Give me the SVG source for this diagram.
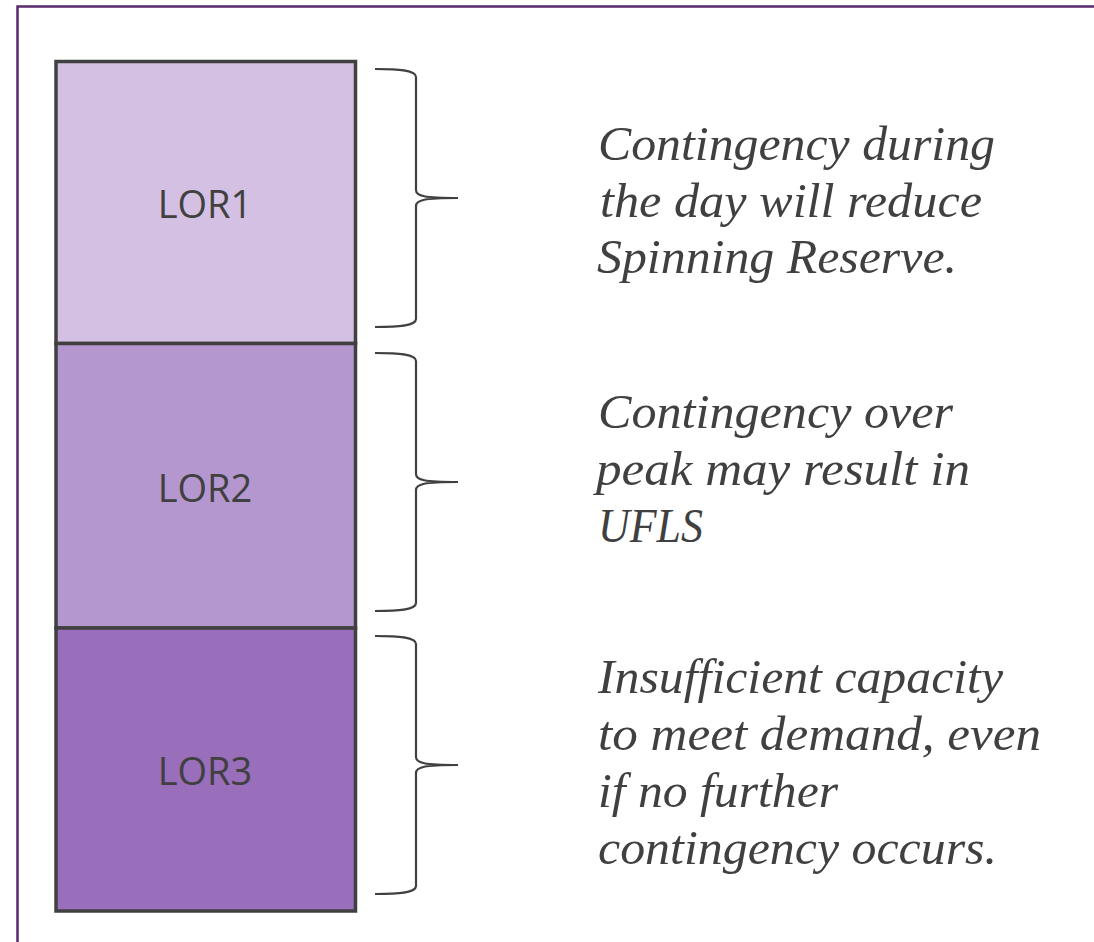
<svg xmlns="http://www.w3.org/2000/svg" width="1094" height="942" viewBox="0 0 1094 942">
  <style>
    .box { stroke: #404040; stroke-width: 3.5; }
    .lbl { font-family: "Open Sans", "Liberation Sans", sans-serif; font-size: 38px; fill: #404040; text-anchor: middle; }
    .desc { font-family: "Liberation Serif", "DejaVu Serif", serif; font-style: italic; font-size: 48px; fill: #404040; }
    .brace { fill: none; stroke: #404040; stroke-width: 2.2; }
  </style>
  <defs>
    <path id="brace" d="M375,69 C398,69 416,70 416,77 L416,190 C416,196 424,198 458,198 C424,198 416,200 416,206 L416,319 C416,326 398,327 375,327"/>
  </defs>
  <rect width="1094" height="942" fill="#ffffff"/>
  <path d="M17.5,943 L17.5,6.5 L1095,6.5" fill="none" stroke="#5B2A6E" stroke-width="2.5"/>

  <g id="lor1">
    <rect class="box" x="56" y="61.5" width="299.5" height="282" fill="#D4C0E2"/>
    <text class="lbl" x="205" y="218">LOR1</text>
  </g>
  <g id="lor2">
    <rect class="box" x="56" y="343.5" width="299.5" height="284.5" fill="#B497CE"/>
    <text class="lbl" x="205" y="501.5">LOR2</text>
  </g>
  <g id="lor3">
    <rect class="box" x="56" y="628" width="299.5" height="283" fill="#996EBA"/>
    <text class="lbl" x="205" y="785">LOR3</text>
  </g>

  <g id="connectors">
    <use href="#brace" class="brace"/>
    <use href="#brace" class="brace" transform="translate(0,284)"/>
    <use href="#brace" class="brace" transform="translate(0,567)"/>
  </g>

  <g id="desc1">
    <text class="desc" x="598" y="160" textLength="397" lengthAdjust="spacingAndGlyphs">Contingency during</text>
    <text class="desc" x="600" y="217" textLength="382" lengthAdjust="spacingAndGlyphs">the day will reduce</text>
    <text class="desc" x="597" y="273" textLength="360" lengthAdjust="spacingAndGlyphs">Spinning Reserve.</text>
  </g>
  <g id="desc2">
    <text class="desc" x="598" y="428" textLength="355" lengthAdjust="spacingAndGlyphs">Contingency over</text>
    <text class="desc" x="596" y="485" textLength="374" lengthAdjust="spacingAndGlyphs">peak may result in</text>
    <text class="desc" x="598" y="542" textLength="105" lengthAdjust="spacingAndGlyphs">UFLS</text>
  </g>
  <g id="desc3">
    <text class="desc" x="598" y="693" textLength="405" lengthAdjust="spacingAndGlyphs">Insufficient capacity</text>
    <text class="desc" x="598" y="750" textLength="443" lengthAdjust="spacingAndGlyphs">to meet demand, even</text>
    <text class="desc" x="598" y="807" textLength="240" lengthAdjust="spacingAndGlyphs">if no further</text>
    <text class="desc" x="598" y="864" textLength="399" lengthAdjust="spacingAndGlyphs">contingency occurs.</text>
  </g>
</svg>
